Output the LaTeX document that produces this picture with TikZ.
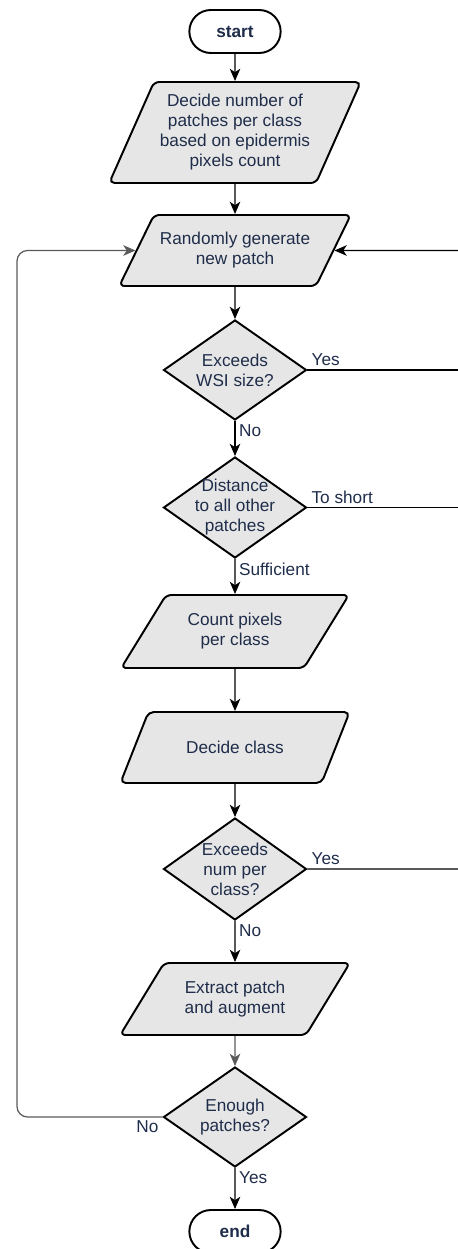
\documentclass[tikz,border=0pt]{standalone}
\usepackage{fontspec}
\setmainfont{Liberation Sans}
\usetikzlibrary{arrows.meta,shapes.geometric,shapes.misc}

\definecolor{ink}{HTML}{1F2D4A}
\definecolor{boxfill}{HTML}{E6E6E6}
\definecolor{loopgray}{HTML}{5A5A5A}
\tikzset{
	BaseStyle/.style = {draw=black, line width=1.1pt, text=ink, align=center,
		font=\fontsize{9.8}{11.4}\selectfont},
	TermStyle/.style = {BaseStyle, rounded rectangle, fill=white,
		minimum width=2.06cm, minimum height=0.86cm, font=\fontsize{9.8}{11.4}\selectfont\bfseries},
	DataStyle/.style = {BaseStyle, trapezium, trapezium stretches=true,
		trapezium left angle=54, trapezium right angle=126, rounded corners=3pt,
		fill=boxfill, minimum width=4.6cm, minimum height=1.42cm},
	DecisionStyle/.style = {BaseStyle, diamond, fill=boxfill, inner xsep=-8pt, inner ysep=-6pt,
		minimum width=2.86cm, minimum height=2cm},
	LineStyle/.style = {draw=black, line width=0.7pt},
	EdgeStyle/.style = {LineStyle, -{Stealth[length=7pt,width=6pt,inset=2pt]}},
	LoopStyle/.style = {EdgeStyle, draw=loopgray, rounded corners=6pt},
	LabelStyle/.style = {text=ink, font=\fontsize{9.8}{11.4}\selectfont, inner sep=2pt}
}

\begin{document}
\begin{tikzpicture}
	\useasboundingbox (0,0) rectangle (9.14,-24.98);
	% main column
	\node[TermStyle] (start) at (4.70,-0.63) {start};
	\node[DataStyle, trapezium left angle=63, trapezium right angle=117, minimum height=2.02cm]
		(decide) at (4.70,-2.65) {Decide number of\\patches per class\\based on epidermis\\pixels count};
	\node[DataStyle] (gen) at (4.70,-5.01) {Randomly generate\\new patch};
	\node[DecisionStyle] (wsi) at (4.70,-7.40) {Exceeds\\WSI size?};
	\node[DecisionStyle, minimum height=2.02cm] (dist) at (4.70,-10.15) {Distance\\to all other\\patches};
	\node[DataStyle, minimum height=1.46cm] (count) at (4.70,-12.63) {Count pixels\\per class};
	\node[DataStyle] (cls) at (4.70,-14.95) {Decide class};
	\node[DecisionStyle, minimum height=2.04cm] (num) at (4.70,-17.38) {Exceeds\\num per\\class?};
	\node[DataStyle, minimum height=1.44cm] (extract) at (4.70,-19.98) {Extract patch\\and augment};
	\node[DecisionStyle] (enough) at (4.70,-22.34) {Enough\\patches?};
	\node[TermStyle] (end) at (4.70,-24.63) {end};
	% loop rails
	\coordinate (ll) at (0.34,0);
	\coordinate (rr) at (9.40,0);

	\draw[EdgeStyle] (start) -- (decide);
	\draw[EdgeStyle] (decide) -- (gen);
	\draw[EdgeStyle] (gen) -- (wsi);
	\draw[EdgeStyle] (wsi) -- node[LabelStyle, pos=0, anchor=north west] {No} (dist);
	\draw[EdgeStyle] (dist) -- node[LabelStyle, pos=0, anchor=north west] {Sufficient} (count);
	\draw[EdgeStyle] (count) -- (cls);
	\draw[EdgeStyle] (cls) -- (num);
	\draw[EdgeStyle] (num) -- node[LabelStyle, pos=0, anchor=north west] {No} (extract);
	\draw[EdgeStyle, draw=loopgray] (extract) -- (enough);
	\draw[EdgeStyle] (enough) -- node[LabelStyle, pos=0, anchor=north west] {Yes} (end);

	\draw[LineStyle] (wsi.east) -- node[LabelStyle, pos=0, anchor=south west] {Yes} (wsi.east -| rr);
	\draw[LineStyle] (dist.east) -- node[LabelStyle, pos=0, anchor=south west] {To short} (dist.east -| rr);
	\draw[EdgeStyle, rounded corners=6pt] (num.east) -- node[LabelStyle, pos=0, anchor=south west] {Yes}
		(num.east -| rr) |- (gen.east);
	\draw[LoopStyle] (enough.west) -- node[LabelStyle, pos=0, anchor=north east] {No}
		(enough.west -| ll) |- (gen.west);
\end{tikzpicture}
\end{document}
